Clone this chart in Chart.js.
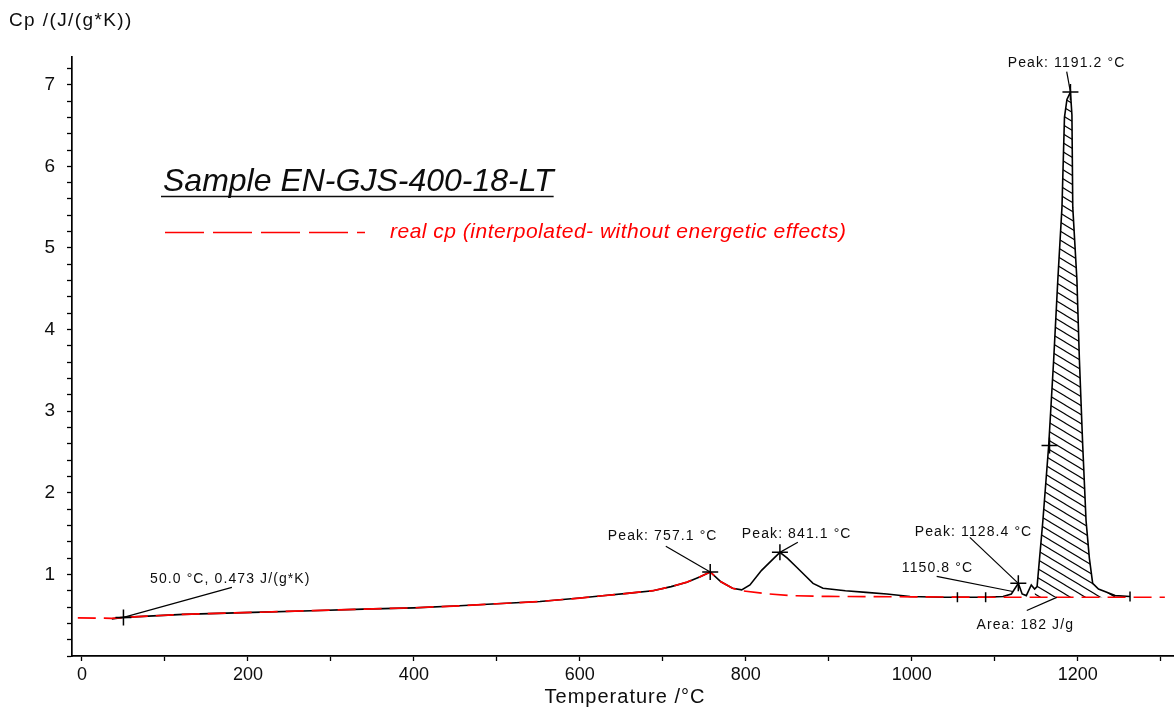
<!DOCTYPE html>
<html>
<head>
<meta charset="utf-8">
<script src="https://cdn.jsdelivr.net/npm/chart.js@4/dist/chart.umd.min.js"></script>
<style>
    html, body { margin: 0; padding: 0; background: #fff; }
    #wrap { width: 1174px; height: 709px; }
</style>
</head>
<body>
<div id="wrap"><canvas id="cpChart" width="1174" height="709"></canvas></div>
<script>
// 측정 곡선 (°C, J/(g*K))
const measuredTemps = [36, 50, 122, 206, 277, 339, 400, 455, 500, 552,
    600, 624, 660, 688, 710, 729, 745, 757.1, 770, 784,
    795, 805, 819, 830, 841.1, 850, 861, 872, 881, 893,
    920, 945, 970, 998, 1037, 1055, 1089, 1110, 1120, 1128.4,
    1133, 1138, 1144, 1148, 1151, 1158, 1165, 1171, 1176, 1181,
    1184, 1187, 1191.2, 1193, 1194, 1199, 1202, 1206, 1210, 1214,
    1218, 1225, 1235, 1245, 1263];
const measuredCp = [0.455, 0.473, 0.51, 0.534, 0.555, 0.575, 0.59, 0.615, 0.64, 0.668,
    0.71, 0.735, 0.77, 0.80, 0.85, 0.905, 0.97, 1.03, 0.91, 0.83,
    0.81, 0.87, 1.05, 1.16, 1.27, 1.20, 1.09, 0.98, 0.89, 0.83,
    0.80, 0.78, 0.76, 0.73, 0.72, 0.72, 0.72, 0.73, 0.76, 0.89,
    0.76, 0.74, 0.87, 0.82, 0.85, 1.66, 2.58, 3.63, 4.61, 5.50,
    6.60, 6.82, 6.91, 6.63, 5.50, 4.61, 3.63, 2.58, 1.66, 1.20,
    0.89, 0.82, 0.78, 0.74, 0.73];

// real cp (interpolated - without energetic effects)
const baseTemps = [-5, 36, 50, 122, 206, 277, 339, 400, 455, 500,
    552, 600, 624, 660, 688, 710, 729, 745, 757.1, 770,
    784, 795, 825, 853, 900, 1000, 1100, 1200, 1305];
const baseCp = [0.467, 0.462, 0.473, 0.51, 0.534, 0.555, 0.575, 0.59, 0.615, 0.64,
    0.668, 0.71, 0.735, 0.77, 0.80, 0.85, 0.905, 0.97, 1.03, 0.91,
    0.83, 0.80, 0.763, 0.74, 0.73, 0.725, 0.72, 0.72, 0.72];

// 적분 구간 (해칭)
const areaFrom = 1148;
const areaTo = 1245;
const areaBase = 0.72;

// 마커
const crossTemps = [50, 757.1, 841.1, 1128.4, 1166, 1191.2];
const crossCp = [0.473, 1.03, 1.27, 0.89, 2.58, 6.91];
const barTemps = [1055, 1089, 1263];
const barCp = [0.72, 0.72, 0.73];

// 주석: 텍스트, 위치, 지시선
const noteTexts = ['50.0 °C, 0.473 J/(g*K)', 'Peak: 757.1 °C', 'Peak: 841.1 °C',
    'Peak: 1128.4 °C', '1150.8 °C', 'Area: 182 J/g', 'Peak: 1191.2 °C'];
const noteTemps = [82, 633.7, 795.2, 1003.6, 988, 1078, 1115.7];
const noteCp = [0.94, 1.466, 1.49, 1.515, 1.074, 0.374, 7.27];
const leaderFromTemps = [180.7, 703.6, 862.7, 1069.9, 1030, 1138.6, 1186.7];
const leaderFromCp = [0.84, 1.344, 1.393, 1.454, 0.976, 0.558, 7.16];
const leaderToTemps = [50, 757.1, 841.1, 1128.4, 1121.7, 1174.7, 1191.2];
const leaderToCp = [0.473, 1.03, 1.27, 0.89, 0.79, 0.718, 6.91];

// 축 눈금
const xTickValues = [0, 100, 200, 300, 400, 500, 600, 700, 800, 900, 1000, 1100, 1200, 1300];
const xTickLabels = ['0', '', '200', '', '400', '', '600', '', '800', '', '1000', '', '1200', ''];
const yMajorValues = [1, 2, 3, 4, 5, 6, 7];
const yMinorStep = 0.2;

const FONT = '"Liberation Sans", Arial, sans-serif';
const RED = '#ff0000';
const INK = '#0d0d0d';

function toPoints(xs, ys) {
    return xs.map((t, i) => ({ x: t, y: ys[i] }));
}

function makeHatch() {
    const w = 15, h = 9;
    const c = document.createElement('canvas');
    c.width = w;
    c.height = h;
    const g = c.getContext('2d');
    g.strokeStyle = '#000';
    g.lineWidth = 1.1;
    g.beginPath();
    g.moveTo(-w, -h);
    g.lineTo(2 * w, 2 * h);
    g.moveTo(-w, 0);
    g.lineTo(w, 2 * h);
    g.moveTo(0, -h);
    g.lineTo(2 * w, h);
    g.stroke();
    return g.createPattern(c, 'repeat');
}

const measuredPoints = toPoints(measuredTemps, measuredCp);
const areaPoints = measuredPoints.filter(p => p.x >= areaFrom && p.x <= areaTo);

const overlay = {
    id: 'overlay',
    afterDatasetsDraw(chart) {
        const { ctx, scales: { x, y } } = chart;
        ctx.save();
        ctx.strokeStyle = '#000';
        ctx.lineWidth = 1.2;
        for (let i = 0; i < noteTexts.length; i++) {
            ctx.beginPath();
            ctx.moveTo(x.getPixelForValue(leaderFromTemps[i]), y.getPixelForValue(leaderFromCp[i]));
            ctx.lineTo(x.getPixelForValue(leaderToTemps[i]), y.getPixelForValue(leaderToCp[i]));
            ctx.stroke();
        }
        ctx.font = '14px ' + FONT;
        ctx.letterSpacing = '1.1px';
        ctx.fillStyle = INK;
        ctx.textBaseline = 'middle';
        ctx.textAlign = 'left';
        for (let i = 0; i < noteTexts.length; i++) {
            ctx.fillText(noteTexts[i], x.getPixelForValue(noteTemps[i]), y.getPixelForValue(noteCp[i]));
        }
        ctx.restore();
    },
    afterDraw(chart) {
        const { ctx, chartArea } = chart;
        ctx.save();
        ctx.fillStyle = INK;
        ctx.textBaseline = 'middle';

        // 축 제목
        ctx.font = '19px ' + FONT;
        ctx.letterSpacing = '1.4px';
        ctx.textAlign = 'left';
        ctx.fillText('Cp /(J/(g*K))', 9, 21);
        ctx.font = '20px ' + FONT;
        ctx.letterSpacing = '1px';
        ctx.textAlign = 'center';
        ctx.fillText('Temperature /°C', (chartArea.left + chartArea.right) / 2 + 2, 697);

        // 샘플 제목
        ctx.font = 'italic 32px ' + FONT;
        ctx.letterSpacing = '0px';
        ctx.textAlign = 'left';
        ctx.textBaseline = 'alphabetic';
        const title = 'Sample EN-GJS-400-18-LT';
        ctx.fillText(title, 163, 191);
        const tw = ctx.measureText(title).width;
        ctx.strokeStyle = INK;
        ctx.lineWidth = 1.5;
        ctx.beginPath();
        ctx.moveTo(161, 196.5);
        ctx.lineTo(163 + tw, 196.5);
        ctx.stroke();

        // 범례
        ctx.strokeStyle = RED;
        ctx.lineWidth = 1.5;
        ctx.setLineDash([39, 9]);
        ctx.beginPath();
        ctx.moveTo(165, 232.5);
        ctx.lineTo(365, 232.5);
        ctx.stroke();
        ctx.setLineDash([]);
        ctx.font = 'italic 21px ' + FONT;
        ctx.letterSpacing = '0.5px';
        ctx.fillStyle = RED;
        ctx.textBaseline = 'middle';
        ctx.fillText('real cp (interpolated- without energetic effects)', 390, 232);
        ctx.restore();
    }
};

function init() {
    const ctx = document.getElementById('cpChart').getContext('2d');
    new Chart(ctx, {
        type: 'line',
        data: {
            datasets: [
                {
                    label: 'crosses',
                    data: toPoints(crossTemps, crossCp),
                    showLine: false,
                    pointStyle: 'cross',
                    pointRadius: 8,
                    pointBorderWidth: 1.5,
                    pointBorderColor: '#000',
                    order: -2
                },
                {
                    label: 'bars',
                    data: toPoints(barTemps, barCp),
                    showLine: false,
                    pointStyle: 'line',
                    rotation: 90,
                    pointRadius: 5,
                    pointBorderWidth: 1.5,
                    pointBorderColor: '#000',
                    order: -1
                },
                {
                    label: 'real cp',
                    data: toPoints(baseTemps, baseCp),
                    borderColor: RED,
                    borderWidth: 1.7,
                    borderDash: [18, 8],
                    pointRadius: 0,
                    fill: false,
                    order: 0
                },
                {
                    label: 'measured',
                    data: measuredPoints,
                    borderColor: '#000',
                    borderWidth: 1.6,
                    pointRadius: 0,
                    fill: false,
                    order: 1
                },
                {
                    label: 'area',
                    data: areaPoints,
                    borderWidth: 0,
                    borderColor: 'rgba(0,0,0,0)',
                    backgroundColor: makeHatch(),
                    pointRadius: 0,
                    fill: { value: areaBase },
                    order: 2
                }
            ]
        },
        options: {
            responsive: false,
            animation: false,
            events: [],
            layout: { autoPadding: false, padding: { top: 57, right: 0, left: 0, bottom: 0 } },
            plugins: {
                legend: { display: false },
                tooltip: { enabled: false }
            },
            scales: {
                x: {
                    type: 'linear',
                    min: -12,
                    max: 1316,
                    afterFit: s => {
                        s.height = 53;
                        s.paddingLeft = 0;
                        s.paddingRight = 0;
                    },
                    afterBuildTicks: s => { s.ticks = xTickValues.map(v => ({ value: v })); },
                    grid: { drawOnChartArea: false, tickLength: 5, tickColor: '#000', tickWidth: 1.3 },
                    border: { color: '#000', width: 1.7 },
                    ticks: {
                        autoSkip: false,
                        maxRotation: 0,
                        padding: 3,
                        color: INK,
                        font: { family: FONT, size: 18 },
                        callback: (v, i) => xTickLabels[i]
                    }
                },
                y: {
                    type: 'linear',
                    min: 0,
                    max: 7.34,
                    afterFit: s => {
                        s.width = 72;
                        s.paddingTop = 0;
                        s.paddingBottom = 0;
                    },
                    afterBuildTicks: s => {
                        const ticks = [];
                        for (let v = 0; v <= 7.3; v += yMinorStep) {
                            ticks.push({ value: Math.round(v * 10) / 10 });
                        }
                        s.ticks = ticks;
                    },
                    grid: { drawOnChartArea: false, tickLength: 5, tickColor: '#000', tickWidth: 1.3 },
                    border: { color: '#000', width: 1.7 },
                    ticks: {
                        autoSkip: false,
                        padding: 12,
                        color: INK,
                        font: { family: FONT, size: 19 },
                        callback: v => yMajorValues.includes(v) ? String(v) : ''
                    }
                }
            }
        },
        plugins: [overlay]
    });
}

document.addEventListener('DOMContentLoaded', init);
</script>
</body>
</html>
